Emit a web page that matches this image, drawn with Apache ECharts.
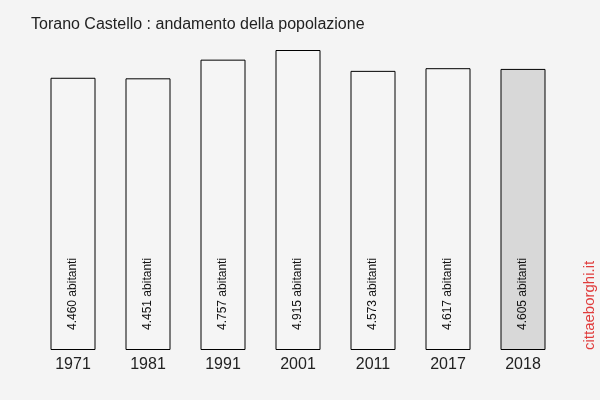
<!DOCTYPE html>
<html><head><meta charset="utf-8">
<script src="https://cdn.jsdelivr.net/npm/echarts@6/dist/echarts.min.js"></script>
<style>html,body{margin:0;padding:0;background:#f4f4f4}#c{width:600px;height:400px}</style>
</head><body><div id="c"></div>
<script>
const categories = ["1971","1981","1991","2001","2011","2017","2018"];
const values = [4460,4451,4757,4915,4573,4617,4605];
const labels = ["4.460 abitanti","4.451 abitanti","4.757 abitanti","4.915 abitanti","4.573 abitanti","4.617 abitanti","4.605 abitanti"];
const chart = echarts.init(document.getElementById('c'));
chart.setOption({
  backgroundColor:'#f4f4f4',
  animation:false,
  title:{text:'Torano Castello : andamento della popolazione',left:26,top:12,
    textStyle:{fontFamily:'Liberation Sans, Arial',fontSize:16,fontWeight:'normal',color:'#222'}},
  grid:{left:35.5,right:39.5,top:50,bottom:50},
  xAxis:{type:'category',data:categories,axisLine:{show:false},axisTick:{show:false},
    axisLabel:{fontFamily:'Liberation Sans, Arial',fontSize:16,color:'#222',margin:7}},
  yAxis:{type:'value',min:0,max:4915,show:false,splitLine:{show:false}},
  series:[{type:'bar',barWidth:45,
    data:values.map((v,i)=>({value:v,itemStyle:{color:i===values.length-1?'#d8d8d8':'#f5f5f5'}})),
    itemStyle:{borderColor:'#000',borderWidth:1},
    label:{show:true,position:'insideBottom',rotate:90,align:'left',verticalAlign:'middle',distance:20,
      fontFamily:'Liberation Sans, Arial',fontSize:12,color:'#111',
      formatter:p=>labels[p.dataIndex]}
  }],
  graphic:[{type:'text',x:590,y:350,rotation:Math.PI/2,
    style:{text:'cittaeborghi.it',fill:'#e03c3c',font:'15px Liberation Sans, Arial',textAlign:'left',textVerticalAlign:'middle'}}]
});
</script></body></html>
